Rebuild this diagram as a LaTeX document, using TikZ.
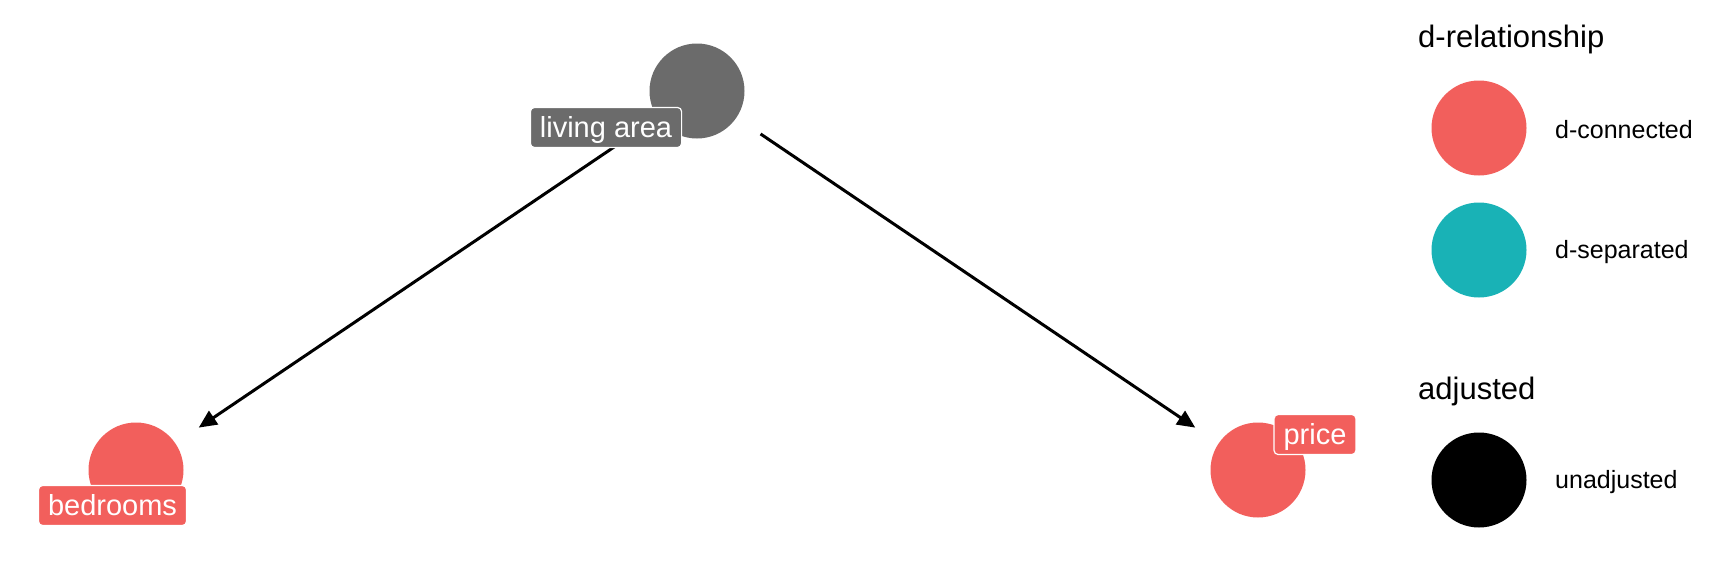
\documentclass[tikz,border=0pt]{standalone}
\usepackage{fontspec}
\setmainfont{Liberation Sans}
\usepackage{xcolor}
\definecolor{dconnected}{HTML}{F25F5C}
\definecolor{dseparated}{HTML}{19B2B6}
\definecolor{nodegray}{HTML}{6B6B6B}
\usetikzlibrary{arrows.meta, positioning}
\tikzset{
	dagnode/.style={circle, minimum size=95pt, inner sep=0pt, draw=none}
}
\tikzset{
	daglabel/.style={anchor=base, rounded corners=4pt, draw=white, line width=1.2pt, text=white,
	font=\fontsize{29}{29}\selectfont, inner xsep=9.5pt, inner ysep=6.5pt, text height=23pt, text depth=4pt}
}
\tikzset{
	effect/.style={line width=3pt, -{Triangle[length=18pt, width=16pt]}, shorten <=29pt, shorten >=28pt}
}
\tikzset{
	legtitle/.style={anchor=base west, inner sep=0pt, font=\fontsize{31}{31}\selectfont},
	legtext/.style={anchor=base west, inner sep=0pt, font=\fontsize{25}{25}\selectfont}
}

\begin{document}
\begin{tikzpicture}[x=1pt, y=-1pt]
		\useasboundingbox (0, 0) rectangle (1728, 570);
		\newcommand{\legx}{1479}
		\newcommand{\textx}{1555}

		% variables
		\node[dagnode, fill=nodegray] (living) at (697, 91) {};
		\node[dagnode, fill=dconnected] (bedrooms) at (136, 470) {};
		\node[dagnode, fill=dconnected] (price) at (1258, 470) {};

		% paths
		\draw[effect] (living) -- (bedrooms);
		\draw[effect] (living) -- (price);

		% labels
		\node[daglabel, fill=nodegray] (livinglabel) at (606, 137) {living area};
		\node[daglabel, fill=dconnected] (bedroomslabel) at (112.5, 515) {bedrooms};
		\node[daglabel, fill=dconnected] (pricelabel) at (1315, 444) {price};

		% legend: d-relationship
		\node[legtitle] (reltitle) at (1418, 47) {d-relationship};
		\node[dagnode, fill=dconnected] (legconnected) at (\legx, 128) {};
		\node[legtext] (connectedtext) at (\textx, 138) {d-connected};
		\node[dagnode, fill=dseparated] (legseparated) at (\legx, 250) {};
		\node[legtext] (separatedtext) at (\textx, 258) {d-separated};

		% legend: adjusted
		\node[legtitle] (adjtitle) at (1418, 399) {adjusted};
		\node[dagnode, fill=black] (legunadjusted) at (\legx, 480) {};
		\node[legtext] (unadjustedtext) at (\textx, 488) {unadjusted};

	\end{tikzpicture}
\end{document}
